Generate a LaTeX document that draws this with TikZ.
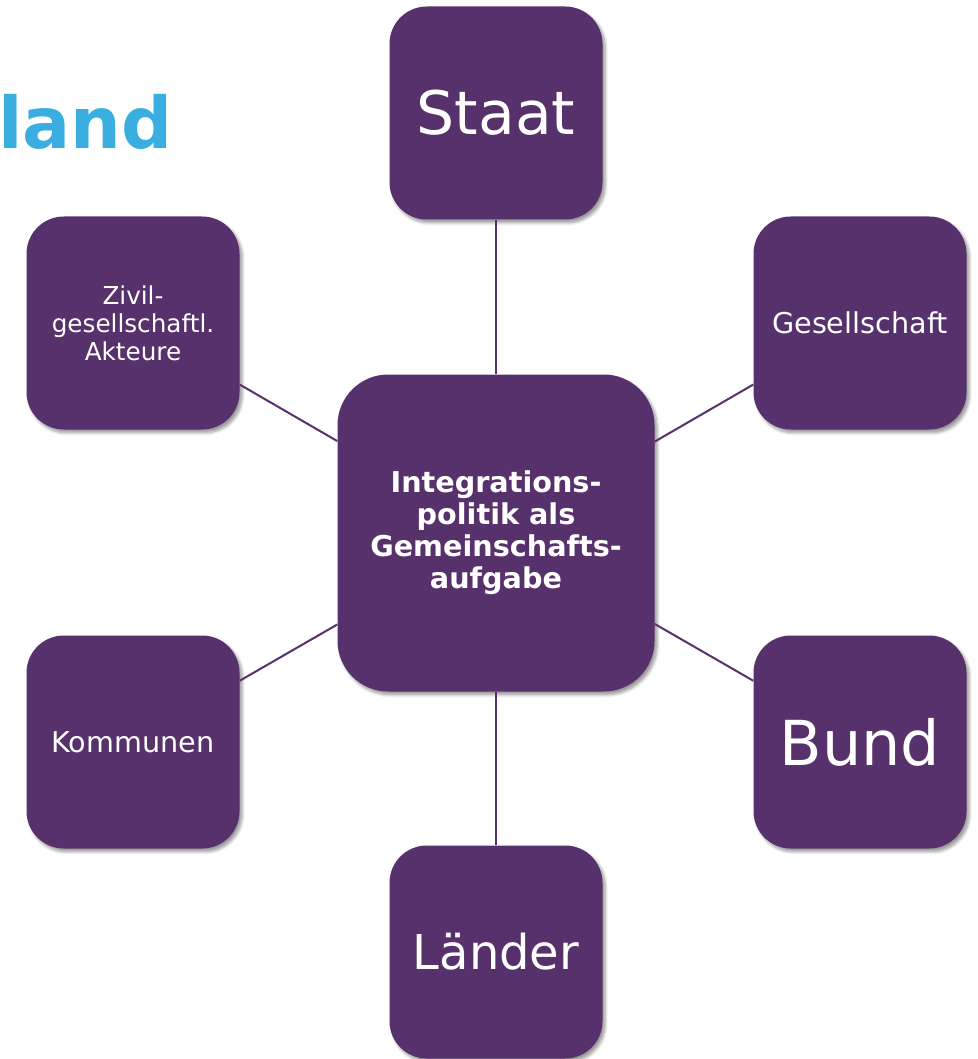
\documentclass[tikz,border=0pt]{standalone}
\usepackage{fontspec}
\setmainfont{DejaVu Sans}
\usepackage{xcolor}
\usepackage{tikz}
\usetikzlibrary{shadows.blur}

\definecolor{lila}{RGB}{87,49,108}
\definecolor{titelblau}{RGB}{58,174,224}

\begin{document}
\begin{tikzpicture}[x=0.75pt, y=-0.75pt,
  akteur/.style={rectangle, rounded corners=28pt, fill=lila, draw=none,
    text=white, align=center, minimum size=159.75pt, inner sep=2pt,
    blur shadow={shadow xshift=2pt, shadow yshift=-2.5pt,
      shadow opacity=40, shadow blur steps=6}},
  kern/.style={akteur, rounded corners=38pt, minimum size=237.75pt,
    font=\bfseries\fontsize{21.5}{24}\selectfont},
  band/.style={draw=lila, line width=1.5pt}]
  \useasboundingbox (0,0) rectangle (977,1059);

  %% Titelrest
  \node[anchor=south east, inner sep=0pt, text=titelblau,
    font=\bfseries\fontsize{53.5}{60}\selectfont] (titel) at (173,150) {land};

  %% Kern
  \node[kern] (kern) at (496,533)
    {Integrations-\\politik als\\Gemeinschafts-\\aufgabe};

  %% Akteure rundherum
  \node[akteur, font=\fontsize{45}{50}\selectfont] (staat) at (496,113) {Staat};
  \node[akteur, font=\fontsize{18.5}{21}\selectfont] (zivil) at (133,323)
    {Zivil-\\gesellschaftl.\\Akteure};
  \node[akteur, font=\fontsize{21.5}{24}\selectfont] (ges) at (860,323) {Gesellschaft};
  \node[akteur, font=\fontsize{21.5}{24}\selectfont] (komm) at (133,742) {Kommunen};
  \node[akteur, font=\fontsize{46.5}{52}\selectfont] (bund) at (860,742) {Bund};
  \node[akteur, font=\fontsize{36}{40}\selectfont] (laender) at (496,952) {Länder};

  %% Verbindungen
  \foreach \n in {staat, zivil, ges, komm, bund, laender}
    \draw[band] (kern) -- (\n);
\end{tikzpicture}
\end{document}
